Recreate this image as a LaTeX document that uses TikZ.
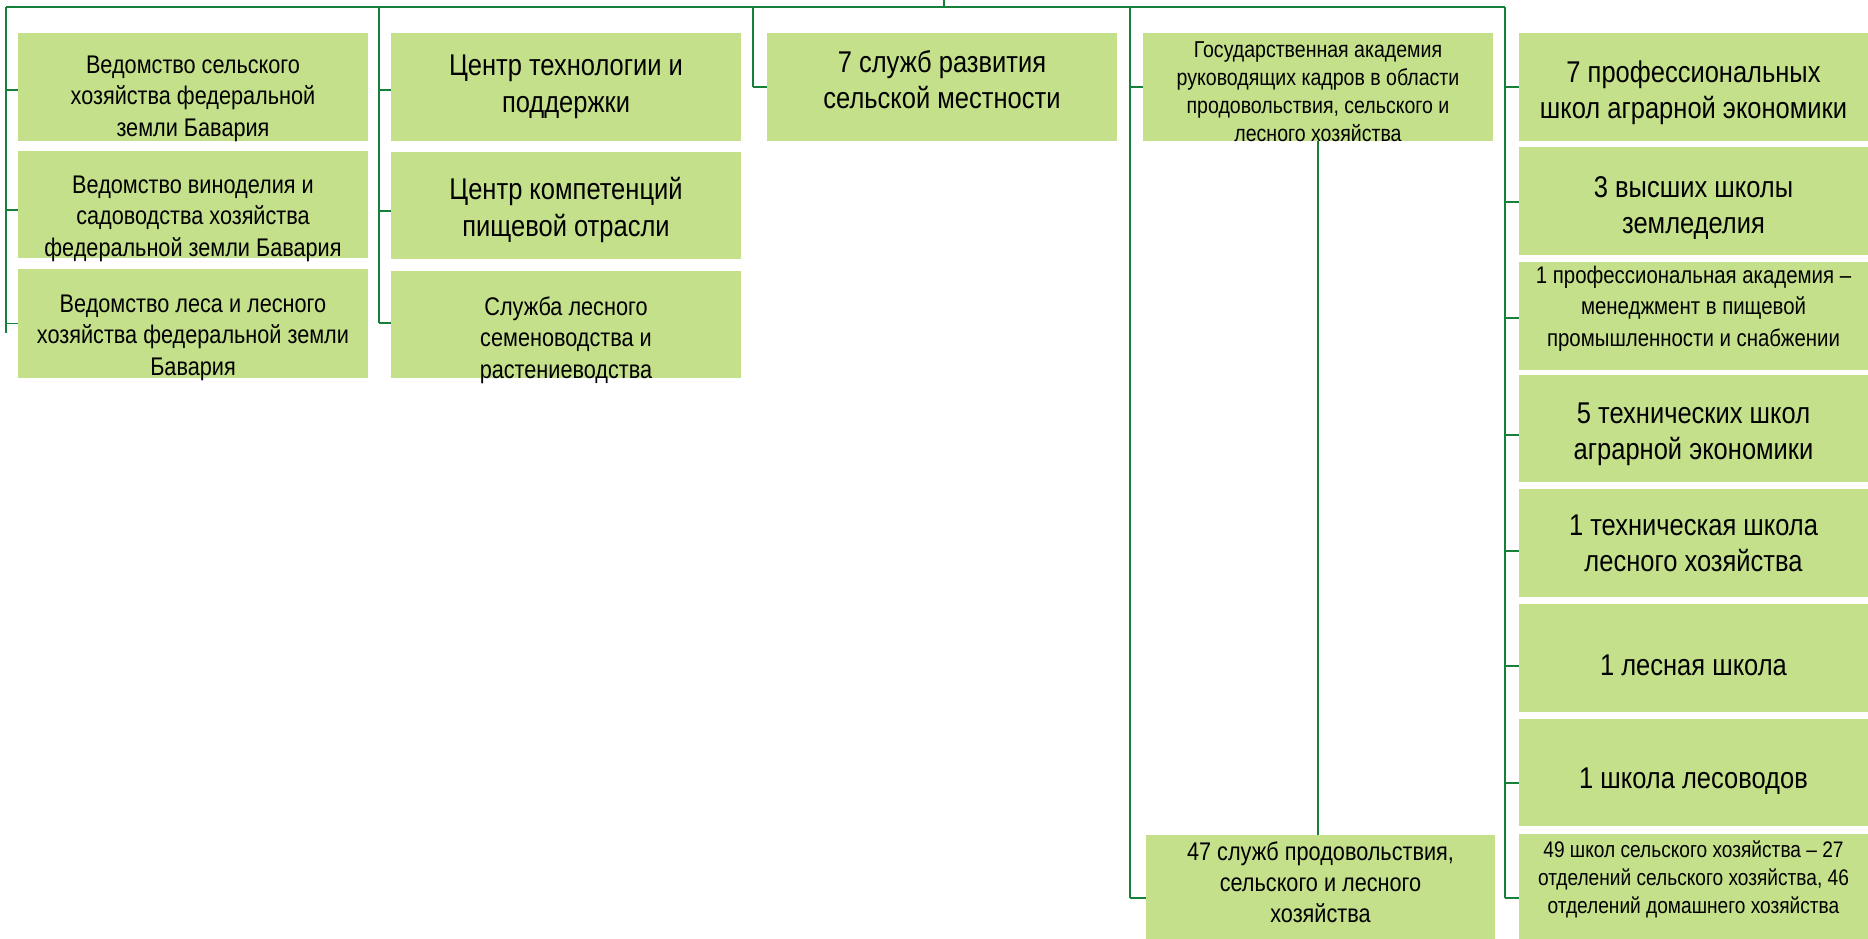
\documentclass[tikz,border=0pt]{standalone}
\usepackage{fontspec}
\setmainfont{Liberation Sans}[FakeStretch=0.85]
\definecolor{boxgreen}{RGB}{197,224,138}
\definecolor{linegreen}{RGB}{22,128,58}
\newcommand\bt[4]{\makebox[0pt]{\raisebox{-#1pt}[0pt][0pt]{\fontsize{#2pt}{#3pt}\selectfont\begin{tabular}[t]{@{}c@{}}#4\end{tabular}}}}
\newcommand\tickto[3]{\coordinate (#1t) at ([yshift=#3]#1.west); \draw[conn] (#2 |- #1t) -- (#1t);}
\begin{document}
\begin{tikzpicture}[x=1pt,y=-1pt,
  orgbox/.style={rectangle, inner sep=0pt, outer sep=0pt, fill=boxgreen, minimum width=350pt, minimum height=108pt, anchor=north west},
  conn/.style={draw=linegreen, line width=1.9pt}]
\useasboundingbox (0,0) rectangle (1868,938);
\clip (0,0) rectangle (1868,938);
% column 1
\node[orgbox] (a1) at (18,33) {\bt{-14}{25.5}{31.5}{Ведомство сельского\\хозяйства федеральной\\земли Бавария}};
\node[orgbox, minimum height=107pt] (a2) at (18,151) {\bt{-11.5}{25.5}{31.5}{Ведомство виноделия и\\садоводства хозяйства\\федеральной земли Бавария}};
\node[orgbox, minimum height=109pt] (a3) at (18,269) {\bt{-11.5}{25.5}{31.5}{Ведомство леса и лесного\\хозяйства федеральной земли\\Бавария}};
% column 2
\node[orgbox] (b1) at (391,33) {\bt{-12}{30}{37}{Центр технологии и\\поддержки}};
\node[orgbox, minimum height=107pt] (b2) at (391,152) {\bt{-6.5}{30}{37}{Центр компетенций\\пищевой отрасли}};
\node[orgbox, minimum height=107pt] (b3) at (391,271) {\bt{-9.5}{25.5}{31.5}{Служба лесного\\семеноводства и\\растениеводства}};
% column 3
\node[orgbox] (c1) at (767,33) {\bt{-15}{30}{36.5}{7 служб развития\\сельской местности}};
% column 4
\node[orgbox] (d1) at (1143,33) {\bt{-30}{23}{28.3}{Государственная академия\\руководящих кадров в области\\продовольствия, сельского и\\лесного хозяйства}};
\node[orgbox, minimum width=349pt, minimum height=109pt] (d2) at (1146,835) {\bt{-29.5}{25.5}{31}{47 служб продовольствия,\\сельского и лесного\\хозяйства}};
% column 5
\node[orgbox, minimum width=349pt] (e1) at (1519,33) {\bt{-5}{30}{36.5}{7 профессиональных\\школ аграрной экономики}};
\node[orgbox, minimum width=349pt] (e2) at (1519,147) {\bt{-4}{30}{36.5}{3 высших школы\\земледелия}};
\node[orgbox, minimum width=349pt] (e3) at (1519,262) {\bt{-33}{24}{31.7}{1 профессиональная академия –\\менеджмент в пищевой\\промышленности и снабжении}};
\node[orgbox, minimum width=349pt, minimum height=107pt] (e4) at (1519,375) {\bt{-5.5}{30}{36.5}{5 технических школ\\аграрной экономики}};
\node[orgbox, minimum width=349pt] (e5) at (1519,489) {\bt{-8}{30}{36.5}{1 техническая школа\\лесного хозяйства}};
\node[orgbox, minimum width=349pt] (e6) at (1519,604) {\bt{17}{30}{36.5}{1 лесная школа}};
\node[orgbox, minimum width=349pt, minimum height=107pt] (e7) at (1519,719) {\bt{15.5}{30}{36.5}{1 школа лесоводов}};
\node[orgbox, minimum width=349pt, minimum height=110pt] (e8) at (1519,834) {\bt{-32}{22.5}{28}{49 школ сельского хозяйства – 27\\отделений сельского хозяйства, 46\\отделений домашнего хозяйства}};
% connector coordinates
\coordinate (root) at (944,0);
\coordinate (rootb) at (944,7);
\coordinate (busL) at (6,7);
\coordinate (busR) at (1505,7);
\coordinate (c1end) at (6,333);
\coordinate (bus2) at (379,7);
\coordinate (bus3) at (753,7);
\coordinate (bus4) at (1130,7);
% top bus
\draw[conn] (root) -- (rootb);
\draw[conn] (busL) -- (busR);
% column 1
\draw[conn] (busL) -- (c1end);
\tickto{a1}{busL}{-3pt}
\tickto{a2}{busL}{-5.5pt}
\tickto{a3}{busL}{0pt}
% column 2
\tickto{b1}{bus2}{-3pt}
\tickto{b2}{bus2}{-5.5pt}
\tickto{b3}{bus2}{1.5pt}
\draw[conn] (bus2) -- (b3t -| bus2);
% column 3
\tickto{c1}{bus3}{0pt}
\draw[conn] (bus3) -- (c1t -| bus3);
% column 4
\tickto{d1}{bus4}{0pt}
\tickto{d2}{bus4}{-8.5pt}
\draw[conn] (bus4) -- (d2t -| bus4);
\draw[conn] (d1.south) -- (d1.south |- d2.north);
% column 5
\tickto{e1}{busR}{0pt}
\tickto{e2}{busR}{-1pt}
\tickto{e3}{busR}{-2pt}
\tickto{e4}{busR}{-6.5pt}
\tickto{e5}{busR}{-8pt}
\tickto{e6}{busR}{-8pt}
\tickto{e7}{busR}{-10.5pt}
\tickto{e8}{busR}{-9pt}
\draw[conn] (busR) -- (e8t -| busR);
\end{tikzpicture}
\end{document}
